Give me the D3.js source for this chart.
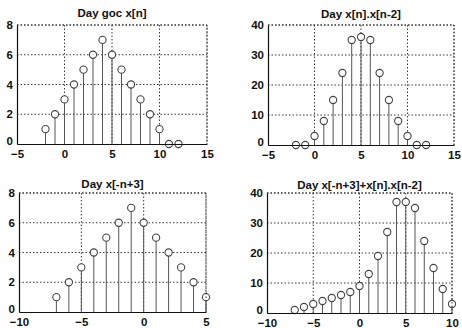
<!DOCTYPE html>
<html>
<head>
  <meta charset="utf8" />
  <style>
    body { margin: 0; background: #fff; }
    text { font-family: "Liberation Sans", Arial, sans-serif; fill: #111; }
    .title { font-size: 11.5px; font-weight: bold; text-anchor: middle; }
    .tick text { font-size: 11.5px; font-weight: bold; }
  </style>
</head>
<body>
  <script src="https://d3js.org/d3.v7.min.js"></script>
  <script>
    // sample indices and values for each panel
    var n1 = [-2, -1, 0, 1, 2, 3, 4, 5, 6, 7, 8, 9, 10, 11, 12];
    var x1 = [1, 2, 3, 4, 5, 6, 7, 6, 5, 4, 3, 2, 1, 0, 0];

    var n2 = [-2, -1, 0, 1, 2, 3, 4, 5, 6, 7, 8, 9, 10, 11, 12];
    var x2 = [0, 0, 3, 8, 15, 24, 35, 36, 35, 24, 15, 8, 3, 0, 0];

    var n3 = [-7, -6, -5, -4, -3, -2, -1, 0, 1, 2, 3, 4, 5];
    var x3 = [1, 2, 3, 4, 5, 6, 7, 6, 5, 4, 3, 2, 1];

    var n4 = [-7, -6, -5, -4, -3, -2, -1, 0, 1, 2, 3, 4, 5, 6, 7, 8, 9, 10];
    var x4 = [1, 2, 3, 4, 5, 6, 7, 9, 13, 19, 27, 37, 37, 35, 24, 15, 8, 3];

    var titles = ["Day goc x[n]", "Day x[n].x[n-2]", "Day x[-n+3]", "Day x[-n+3]+x[n].x[n-2]"];
    var xTicks1 = [-5, 0, 5, 10, 15], xTicks3 = [-10, -5, 0, 5], xTicks4 = [-10, -5, 0, 5, 10];
    var yTicks8 = [0, 2, 4, 6, 8], yTicks40 = [0, 10, 20, 30, 40];

    var panels = [
      {n: n1, v: x1, title: titles[0], xd: [-5, 15], yd: [0, 8], xt: xTicks1, yt: yTicks8, box: [17, 25, 207, 144], ty: 13},
      {n: n2, v: x2, title: titles[1], xd: [-5, 15], yd: [0, 40], xt: xTicks1, yt: yTicks40, box: [268, 25, 454, 145], ty: 14},
      {n: n3, v: x3, title: titles[2], xd: [-10, 5], yd: [0, 8], xt: xTicks3, yt: yTicks8, box: [19, 193, 206, 312], ty: 184},
      {n: n4, v: x4, title: titles[3], xd: [-10, 10], yd: [0, 40], xt: xTicks4, yt: yTicks40, box: [267, 193, 452, 313], ty: 185}
    ];

    var svg = d3.select("body").append("svg").attr("width", 462).attr("height", 328);

    panels.forEach(function(p) {
      var b = p.box;
      var x = d3.scaleLinear().domain(p.xd).range([b[0], b[2]]);
      var y = d3.scaleLinear().domain(p.yd).range([b[3], b[1]]);
      var g = svg.append("g");

      // dotted grid
      g.selectAll(".gx").data(p.xt.slice(1)).enter().append("line")
        .attr("x1", d => x(d)).attr("x2", d => x(d))
        .attr("y1", b[1]).attr("y2", b[3])
        .attr("stroke", "#222").attr("stroke-width", 0.9).attr("stroke-dasharray", "1.5,2");
      g.selectAll(".gy").data(p.yt.slice(1)).enter().append("line")
        .attr("x1", b[0]).attr("x2", b[2])
        .attr("y1", d => y(d)).attr("y2", d => y(d))
        .attr("stroke", "#222").attr("stroke-width", 0.9).attr("stroke-dasharray", "1.5,2");

      // stems
      var idx = d3.range(p.n.length);
      g.selectAll(".stem").data(idx).enter().append("line")
        .attr("x1", i => x(p.n[i])).attr("x2", i => x(p.n[i]))
        .attr("y1", y(0)).attr("y2", i => y(p.v[i]) + 3.5)
        .attr("stroke", "#555").attr("stroke-width", 1);
      g.selectAll(".mk").data(idx).enter().append("circle")
        .attr("cx", i => x(p.n[i])).attr("cy", i => y(p.v[i]))
        .attr("r", 3.6).attr("fill", "#fff")
        .attr("stroke", "#444").attr("stroke-width", 1.1);

      // axes
      var ax = g.append("g").attr("transform", "translate(0," + b[3] + ")")
        .call(d3.axisBottom(x).tickValues(p.xt).tickSize(0).tickPadding(5));
      var ay = g.append("g").attr("transform", "translate(" + b[0] + ",0)")
        .call(d3.axisLeft(y).tickValues(p.yt).tickSize(0).tickPadding(4));
      [ax, ay].forEach(a => a.select(".domain").attr("stroke", "#111").attr("stroke-width", 1.2));
      ax.selectAll("text").attr("dy", "0.75em");
      // lift the zero label so it clears the x tick labels
      ay.selectAll("text").filter(d => d === 0).attr("dy", "0.05em");

      g.append("path")
        .attr("d", "M" + b[0] + "," + b[1] + "H" + b[2] + "V" + b[3])
        .attr("fill", "none").attr("stroke", "#222").attr("stroke-width", 0.9)
        .attr("stroke-dasharray", "1.5,2");

      svg.append("text").attr("class", "title")
        .attr("x", (b[0] + b[2]) / 2).attr("y", p.ty + 4)
        .text(p.title);
    });
  </script>
</body>
</html>
